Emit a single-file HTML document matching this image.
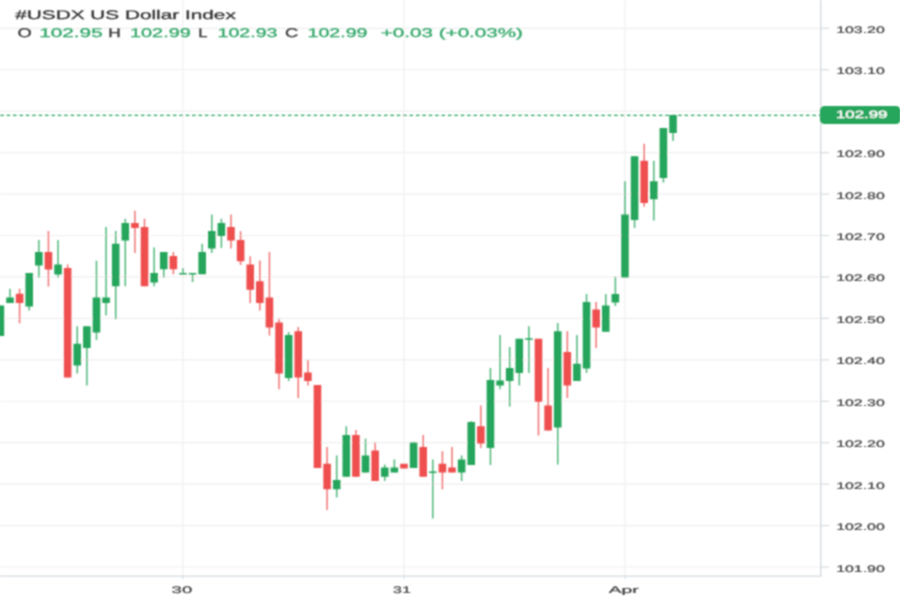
<!DOCTYPE html>
<html><head><meta charset="utf-8"><style>
html,body{margin:0;padding:0;background:#fff;width:900px;height:600px;overflow:hidden}
svg{display:block}
.ax{font-family:"Liberation Sans",sans-serif;font-size:9.5px;fill:#404040;stroke:#404040;stroke-width:0.2px;text-rendering:geometricPrecision}
.lb{font-family:"Liberation Sans",sans-serif;font-size:10.5px;fill:#fff;stroke:#fff;stroke-width:0.3px;text-rendering:geometricPrecision}
.lg{font-family:"Liberation Sans",sans-serif;font-size:12.5px;stroke-width:0.3px;text-rendering:geometricPrecision}
</style></head><body>
<svg width="900" height="600" viewBox="0 0 900 600">
<defs><filter id="bt" filterUnits="userSpaceOnUse" x="0" y="0" width="900" height="600"><feConvolveMatrix order="3" kernelMatrix="1 2 1 2 4 2 1 2 1" divisor="16" edgeMode="none"/></filter><filter id="bc" filterUnits="userSpaceOnUse" x="0" y="0" width="900" height="600"><feConvolveMatrix order="3" kernelMatrix="1 2 1 2 4 2 1 2 1" divisor="16" edgeMode="none"/></filter></defs>
<rect width="900" height="600" fill="#fff"/>
<g filter="url(#bc)">
<line x1="0" y1="28.30" x2="821" y2="28.30" stroke="#f0f0f0" stroke-width="1.2"/>
<line x1="821" y1="28.30" x2="829" y2="28.30" stroke="#d6dbe2" stroke-width="1.2"/>
<line x1="0" y1="69.74" x2="821" y2="69.74" stroke="#f0f0f0" stroke-width="1.2"/>
<line x1="821" y1="69.74" x2="829" y2="69.74" stroke="#d6dbe2" stroke-width="1.2"/>
<line x1="0" y1="111.18" x2="821" y2="111.18" stroke="#f0f0f0" stroke-width="1.2"/>
<line x1="821" y1="111.18" x2="829" y2="111.18" stroke="#d6dbe2" stroke-width="1.2"/>
<line x1="0" y1="152.62" x2="821" y2="152.62" stroke="#f0f0f0" stroke-width="1.2"/>
<line x1="821" y1="152.62" x2="829" y2="152.62" stroke="#d6dbe2" stroke-width="1.2"/>
<line x1="0" y1="194.06" x2="821" y2="194.06" stroke="#f0f0f0" stroke-width="1.2"/>
<line x1="821" y1="194.06" x2="829" y2="194.06" stroke="#d6dbe2" stroke-width="1.2"/>
<line x1="0" y1="235.50" x2="821" y2="235.50" stroke="#f0f0f0" stroke-width="1.2"/>
<line x1="821" y1="235.50" x2="829" y2="235.50" stroke="#d6dbe2" stroke-width="1.2"/>
<line x1="0" y1="276.94" x2="821" y2="276.94" stroke="#f0f0f0" stroke-width="1.2"/>
<line x1="821" y1="276.94" x2="829" y2="276.94" stroke="#d6dbe2" stroke-width="1.2"/>
<line x1="0" y1="318.38" x2="821" y2="318.38" stroke="#f0f0f0" stroke-width="1.2"/>
<line x1="821" y1="318.38" x2="829" y2="318.38" stroke="#d6dbe2" stroke-width="1.2"/>
<line x1="0" y1="359.82" x2="821" y2="359.82" stroke="#f0f0f0" stroke-width="1.2"/>
<line x1="821" y1="359.82" x2="829" y2="359.82" stroke="#d6dbe2" stroke-width="1.2"/>
<line x1="0" y1="401.26" x2="821" y2="401.26" stroke="#f0f0f0" stroke-width="1.2"/>
<line x1="821" y1="401.26" x2="829" y2="401.26" stroke="#d6dbe2" stroke-width="1.2"/>
<line x1="0" y1="442.70" x2="821" y2="442.70" stroke="#f0f0f0" stroke-width="1.2"/>
<line x1="821" y1="442.70" x2="829" y2="442.70" stroke="#d6dbe2" stroke-width="1.2"/>
<line x1="0" y1="484.14" x2="821" y2="484.14" stroke="#f0f0f0" stroke-width="1.2"/>
<line x1="821" y1="484.14" x2="829" y2="484.14" stroke="#d6dbe2" stroke-width="1.2"/>
<line x1="0" y1="525.58" x2="821" y2="525.58" stroke="#f0f0f0" stroke-width="1.2"/>
<line x1="821" y1="525.58" x2="829" y2="525.58" stroke="#d6dbe2" stroke-width="1.2"/>
<line x1="0" y1="567.02" x2="821" y2="567.02" stroke="#f0f0f0" stroke-width="1.2"/>
<line x1="821" y1="567.02" x2="829" y2="567.02" stroke="#d6dbe2" stroke-width="1.2"/>
<line x1="182.96" y1="0" x2="182.96" y2="576" stroke="#f0f0f0" stroke-width="1.2"/>
<line x1="182.96" y1="576" x2="182.96" y2="579" stroke="#d6dbe2" stroke-width="1.2"/>
<line x1="403.97" y1="0" x2="403.97" y2="576" stroke="#f0f0f0" stroke-width="1.2"/>
<line x1="403.97" y1="576" x2="403.97" y2="579" stroke="#d6dbe2" stroke-width="1.2"/>
<line x1="624.98" y1="0" x2="624.98" y2="576" stroke="#f0f0f0" stroke-width="1.2"/>
<line x1="624.98" y1="576" x2="624.98" y2="579" stroke="#d6dbe2" stroke-width="1.2"/>
<line x1="820.8" y1="0" x2="820.8" y2="576.3" stroke="#d6dbe2" stroke-width="1.4"/>
<line x1="0" y1="576.1" x2="821.5" y2="576.1" stroke="#d6dbe2" stroke-width="1.4"/>
<line x1="0.2" y1="115.3" x2="821" y2="115.3" stroke="#26a65b" stroke-width="1.2" stroke-dasharray="3.6 2.795" opacity="1"/>
<rect x="-0.36" y="305.50" width="1.5" height="30.50" fill="#26a65b" opacity="0.8"/>
<rect x="-3.41" y="305.50" width="7.6" height="30.50" fill="#26a65b"/>
<rect x="9.25" y="288.75" width="1.5" height="14.25" fill="#26a65b" opacity="0.8"/>
<rect x="6.20" y="297.50" width="7.6" height="5.50" fill="#26a65b"/>
<rect x="18.86" y="288.75" width="1.5" height="34.50" fill="#ef5050" opacity="0.8"/>
<rect x="15.81" y="293.75" width="7.6" height="9.25" fill="#ef5050"/>
<rect x="28.47" y="273.00" width="1.5" height="37.50" fill="#26a65b" opacity="0.8"/>
<rect x="25.42" y="273.00" width="7.6" height="33.50" fill="#26a65b"/>
<rect x="38.08" y="240.00" width="1.5" height="37.50" fill="#26a65b" opacity="0.8"/>
<rect x="35.03" y="252.00" width="7.6" height="13.50" fill="#26a65b"/>
<rect x="47.69" y="231.00" width="1.5" height="55.50" fill="#ef5050" opacity="0.8"/>
<rect x="44.64" y="252.00" width="7.6" height="17.50" fill="#ef5050"/>
<rect x="57.29" y="240.00" width="1.5" height="37.50" fill="#26a65b" opacity="0.8"/>
<rect x="54.24" y="264.50" width="7.6" height="10.00" fill="#26a65b"/>
<rect x="66.90" y="264.50" width="1.5" height="113.00" fill="#ef5050" opacity="0.8"/>
<rect x="63.85" y="268.00" width="7.6" height="109.50" fill="#ef5050"/>
<rect x="76.51" y="326.25" width="1.5" height="47.25" fill="#26a65b" opacity="0.8"/>
<rect x="73.46" y="343.75" width="7.6" height="21.75" fill="#26a65b"/>
<rect x="86.12" y="326.25" width="1.5" height="59.25" fill="#26a65b" opacity="0.8"/>
<rect x="83.07" y="326.25" width="7.6" height="21.75" fill="#26a65b"/>
<rect x="95.73" y="260.75" width="1.5" height="79.25" fill="#26a65b" opacity="0.8"/>
<rect x="92.68" y="297.50" width="7.6" height="35.00" fill="#26a65b"/>
<rect x="105.34" y="227.00" width="1.5" height="88.50" fill="#26a65b" opacity="0.8"/>
<rect x="102.29" y="297.50" width="7.6" height="5.50" fill="#26a65b"/>
<rect x="114.95" y="231.00" width="1.5" height="88.25" fill="#26a65b" opacity="0.8"/>
<rect x="111.90" y="243.75" width="7.6" height="42.50" fill="#26a65b"/>
<rect x="124.56" y="218.75" width="1.5" height="67.50" fill="#26a65b" opacity="0.8"/>
<rect x="121.51" y="223.00" width="7.6" height="17.50" fill="#26a65b"/>
<rect x="134.17" y="210.75" width="1.5" height="42.25" fill="#ef5050" opacity="0.8"/>
<rect x="131.12" y="223.00" width="7.6" height="5.00" fill="#ef5050"/>
<rect x="143.77" y="218.75" width="1.5" height="67.50" fill="#ef5050" opacity="0.8"/>
<rect x="140.72" y="227.00" width="7.6" height="59.25" fill="#ef5050"/>
<rect x="153.38" y="247.50" width="1.5" height="38.75" fill="#26a65b" opacity="0.8"/>
<rect x="150.33" y="273.00" width="7.6" height="9.50" fill="#26a65b"/>
<rect x="162.99" y="252.00" width="1.5" height="25.50" fill="#26a65b" opacity="0.8"/>
<rect x="159.94" y="252.00" width="7.6" height="17.25" fill="#26a65b"/>
<rect x="172.60" y="252.00" width="1.5" height="22.25" fill="#ef5050" opacity="0.8"/>
<rect x="169.55" y="256.00" width="7.6" height="13.25" fill="#ef5050"/>
<rect x="182.21" y="268.00" width="1.5" height="6.50" fill="#26a65b" opacity="0.8"/>
<rect x="179.16" y="273.00" width="7.6" height="1.50" fill="#26a65b"/>
<rect x="191.82" y="273.00" width="1.5" height="9.00" fill="#26a65b" opacity="0.8"/>
<rect x="188.77" y="273.00" width="7.6" height="1.50" fill="#26a65b"/>
<rect x="201.43" y="243.75" width="1.5" height="30.50" fill="#26a65b" opacity="0.8"/>
<rect x="198.38" y="252.00" width="7.6" height="22.25" fill="#26a65b"/>
<rect x="211.04" y="214.50" width="1.5" height="38.50" fill="#26a65b" opacity="0.8"/>
<rect x="207.99" y="231.00" width="7.6" height="17.50" fill="#26a65b"/>
<rect x="220.65" y="218.75" width="1.5" height="29.25" fill="#26a65b" opacity="0.8"/>
<rect x="217.60" y="223.00" width="7.6" height="13.00" fill="#26a65b"/>
<rect x="230.26" y="214.50" width="1.5" height="34.00" fill="#ef5050" opacity="0.8"/>
<rect x="227.21" y="227.00" width="7.6" height="13.50" fill="#ef5050"/>
<rect x="239.86" y="231.25" width="1.5" height="33.75" fill="#ef5050" opacity="0.8"/>
<rect x="236.81" y="240.00" width="7.6" height="21.25" fill="#ef5050"/>
<rect x="249.47" y="256.25" width="1.5" height="46.75" fill="#ef5050" opacity="0.8"/>
<rect x="246.42" y="264.50" width="7.6" height="25.25" fill="#ef5050"/>
<rect x="259.08" y="260.50" width="1.5" height="50.00" fill="#ef5050" opacity="0.8"/>
<rect x="256.03" y="281.25" width="7.6" height="21.75" fill="#ef5050"/>
<rect x="268.69" y="252.00" width="1.5" height="83.50" fill="#ef5050" opacity="0.8"/>
<rect x="265.64" y="297.50" width="7.6" height="30.00" fill="#ef5050"/>
<rect x="278.30" y="318.75" width="1.5" height="70.50" fill="#ef5050" opacity="0.8"/>
<rect x="275.25" y="322.50" width="7.6" height="51.00" fill="#ef5050"/>
<rect x="287.91" y="332.00" width="1.5" height="49.00" fill="#26a65b" opacity="0.8"/>
<rect x="284.86" y="335.00" width="7.6" height="43.00" fill="#26a65b"/>
<rect x="297.52" y="327.00" width="1.5" height="71.00" fill="#ef5050" opacity="0.8"/>
<rect x="294.47" y="331.25" width="7.6" height="46.25" fill="#ef5050"/>
<rect x="307.13" y="360.00" width="1.5" height="25.50" fill="#ef5050" opacity="0.8"/>
<rect x="304.08" y="372.50" width="7.6" height="8.50" fill="#ef5050"/>
<rect x="316.74" y="385.00" width="1.5" height="83.00" fill="#ef5050" opacity="0.8"/>
<rect x="313.69" y="385.00" width="7.6" height="83.00" fill="#ef5050"/>
<rect x="326.35" y="447.00" width="1.5" height="63.00" fill="#ef5050" opacity="0.8"/>
<rect x="323.30" y="463.75" width="7.6" height="25.50" fill="#ef5050"/>
<rect x="335.95" y="455.50" width="1.5" height="42.00" fill="#26a65b" opacity="0.8"/>
<rect x="332.90" y="480.00" width="7.6" height="9.25" fill="#26a65b"/>
<rect x="345.56" y="426.25" width="1.5" height="50.50" fill="#26a65b" opacity="0.8"/>
<rect x="342.51" y="435.00" width="7.6" height="41.75" fill="#26a65b"/>
<rect x="355.17" y="430.00" width="1.5" height="46.75" fill="#ef5050" opacity="0.8"/>
<rect x="352.12" y="435.00" width="7.6" height="41.75" fill="#ef5050"/>
<rect x="364.78" y="438.75" width="1.5" height="33.75" fill="#26a65b" opacity="0.8"/>
<rect x="361.73" y="455.50" width="7.6" height="17.00" fill="#26a65b"/>
<rect x="374.39" y="442.50" width="1.5" height="38.50" fill="#ef5050" opacity="0.8"/>
<rect x="371.34" y="450.50" width="7.6" height="30.50" fill="#ef5050"/>
<rect x="384.00" y="464.50" width="1.5" height="16.50" fill="#26a65b" opacity="0.8"/>
<rect x="380.95" y="467.50" width="7.6" height="9.25" fill="#26a65b"/>
<rect x="393.61" y="459.50" width="1.5" height="13.00" fill="#26a65b" opacity="0.8"/>
<rect x="390.56" y="467.50" width="7.6" height="5.00" fill="#26a65b"/>
<rect x="403.22" y="463.75" width="1.5" height="4.75" fill="#ef5050" opacity="0.8"/>
<rect x="400.17" y="463.75" width="7.6" height="4.75" fill="#ef5050"/>
<rect x="412.83" y="442.50" width="1.5" height="25.50" fill="#26a65b" opacity="0.8"/>
<rect x="409.78" y="442.50" width="7.6" height="25.50" fill="#26a65b"/>
<rect x="422.44" y="435.00" width="1.5" height="41.75" fill="#ef5050" opacity="0.8"/>
<rect x="419.39" y="447.00" width="7.6" height="29.75" fill="#ef5050"/>
<rect x="432.04" y="459.50" width="1.5" height="59.00" fill="#26a65b" opacity="0.8"/>
<rect x="428.99" y="471.50" width="7.6" height="1.50" fill="#26a65b"/>
<rect x="441.65" y="451.25" width="1.5" height="38.00" fill="#ef5050" opacity="0.8"/>
<rect x="438.60" y="463.75" width="7.6" height="8.75" fill="#ef5050"/>
<rect x="451.26" y="447.00" width="1.5" height="25.50" fill="#ef5050" opacity="0.8"/>
<rect x="448.21" y="467.50" width="7.6" height="5.00" fill="#ef5050"/>
<rect x="460.87" y="455.50" width="1.5" height="25.50" fill="#26a65b" opacity="0.8"/>
<rect x="457.82" y="459.50" width="7.6" height="13.00" fill="#26a65b"/>
<rect x="470.48" y="421.25" width="1.5" height="43.75" fill="#26a65b" opacity="0.8"/>
<rect x="467.43" y="422.00" width="7.6" height="43.00" fill="#26a65b"/>
<rect x="480.09" y="405.50" width="1.5" height="42.50" fill="#ef5050" opacity="0.8"/>
<rect x="477.04" y="426.25" width="7.6" height="17.25" fill="#ef5050"/>
<rect x="489.70" y="368.00" width="1.5" height="97.00" fill="#26a65b" opacity="0.8"/>
<rect x="486.65" y="380.00" width="7.6" height="68.00" fill="#26a65b"/>
<rect x="499.31" y="335.00" width="1.5" height="54.25" fill="#26a65b" opacity="0.8"/>
<rect x="496.26" y="380.50" width="7.6" height="5.00" fill="#26a65b"/>
<rect x="508.92" y="347.00" width="1.5" height="59.50" fill="#26a65b" opacity="0.8"/>
<rect x="505.87" y="368.00" width="7.6" height="13.00" fill="#26a65b"/>
<rect x="518.53" y="338.75" width="1.5" height="46.75" fill="#26a65b" opacity="0.8"/>
<rect x="515.48" y="338.75" width="7.6" height="34.25" fill="#26a65b"/>
<rect x="528.13" y="326.25" width="1.5" height="46.75" fill="#26a65b" opacity="0.8"/>
<rect x="525.09" y="338.25" width="7.6" height="1.50" fill="#26a65b"/>
<rect x="537.74" y="338.75" width="1.5" height="96.75" fill="#ef5050" opacity="0.8"/>
<rect x="534.69" y="338.75" width="7.6" height="63.00" fill="#ef5050"/>
<rect x="547.35" y="368.00" width="1.5" height="62.50" fill="#ef5050" opacity="0.8"/>
<rect x="544.30" y="405.50" width="7.6" height="25.00" fill="#ef5050"/>
<rect x="556.96" y="323.00" width="1.5" height="141.50" fill="#26a65b" opacity="0.8"/>
<rect x="553.91" y="331.25" width="7.6" height="96.25" fill="#26a65b"/>
<rect x="566.57" y="331.25" width="1.5" height="66.75" fill="#ef5050" opacity="0.8"/>
<rect x="563.52" y="352.00" width="7.6" height="33.50" fill="#ef5050"/>
<rect x="576.18" y="335.00" width="1.5" height="46.00" fill="#26a65b" opacity="0.8"/>
<rect x="573.13" y="363.75" width="7.6" height="17.25" fill="#26a65b"/>
<rect x="585.79" y="294.00" width="1.5" height="79.00" fill="#26a65b" opacity="0.8"/>
<rect x="582.74" y="302.00" width="7.6" height="66.50" fill="#26a65b"/>
<rect x="595.40" y="302.00" width="1.5" height="46.00" fill="#ef5050" opacity="0.8"/>
<rect x="592.35" y="309.50" width="7.6" height="18.00" fill="#ef5050"/>
<rect x="605.01" y="294.00" width="1.5" height="37.75" fill="#26a65b" opacity="0.8"/>
<rect x="601.96" y="305.50" width="7.6" height="26.25" fill="#26a65b"/>
<rect x="614.62" y="276.70" width="1.5" height="29.30" fill="#26a65b" opacity="0.8"/>
<rect x="611.57" y="294.00" width="7.6" height="8.50" fill="#26a65b"/>
<rect x="624.23" y="181.25" width="1.5" height="96.25" fill="#26a65b" opacity="0.8"/>
<rect x="621.18" y="214.50" width="7.6" height="63.00" fill="#26a65b"/>
<rect x="633.83" y="156.25" width="1.5" height="71.75" fill="#26a65b" opacity="0.8"/>
<rect x="630.78" y="156.25" width="7.6" height="63.75" fill="#26a65b"/>
<rect x="643.44" y="143.75" width="1.5" height="63.00" fill="#ef5050" opacity="0.8"/>
<rect x="640.39" y="160.75" width="7.6" height="42.25" fill="#ef5050"/>
<rect x="653.05" y="160.75" width="1.5" height="59.75" fill="#26a65b" opacity="0.8"/>
<rect x="650.00" y="181.25" width="7.6" height="18.00" fill="#26a65b"/>
<rect x="662.66" y="128.00" width="1.5" height="54.50" fill="#26a65b" opacity="0.8"/>
<rect x="659.61" y="128.00" width="7.6" height="50.00" fill="#26a65b"/>
<rect x="672.27" y="115.00" width="1.5" height="26.00" fill="#26a65b" opacity="0.8"/>
<rect x="669.22" y="115.00" width="7.6" height="18.00" fill="#26a65b"/>
</g>
<g filter="url(#bt)">
<text x="15.3" y="18.7" textLength="220.5" lengthAdjust="spacingAndGlyphs" class="lg" fill="#363636" stroke="#363636">#USDX US Dollar Index</text>
<text x="17.5" y="37.2" textLength="14.2" lengthAdjust="spacingAndGlyphs" class="lg" fill="#383838" stroke="#383838">O</text>
<text x="39.2" y="37.2" textLength="63.5" lengthAdjust="spacingAndGlyphs" class="lg" fill="#35a86b" stroke="#35a86b">102.95</text>
<text x="108.3" y="37.2" textLength="12.5" lengthAdjust="spacingAndGlyphs" class="lg" fill="#383838" stroke="#383838">H</text>
<text x="130" y="37.2" textLength="60.8" lengthAdjust="spacingAndGlyphs" class="lg" fill="#35a86b" stroke="#35a86b">102.99</text>
<text x="198.3" y="37.2" textLength="9.2" lengthAdjust="spacingAndGlyphs" class="lg" fill="#383838" stroke="#383838">L</text>
<text x="217.5" y="37.2" textLength="60" lengthAdjust="spacingAndGlyphs" class="lg" fill="#35a86b" stroke="#35a86b">102.93</text>
<text x="285" y="37.2" textLength="13.3" lengthAdjust="spacingAndGlyphs" class="lg" fill="#383838" stroke="#383838">C</text>
<text x="307.5" y="37.2" textLength="60" lengthAdjust="spacingAndGlyphs" class="lg" fill="#35a86b" stroke="#35a86b">102.99</text>
<text x="380.8" y="37.2" textLength="142.2" lengthAdjust="spacingAndGlyphs" class="lg" fill="#35a86b" stroke="#35a86b">+0.03 (+0.03%)</text>
<text x="836.2" y="32.80" textLength="48.6" lengthAdjust="spacingAndGlyphs" class="ax">103.20</text>
<text x="836.2" y="74.24" textLength="48.6" lengthAdjust="spacingAndGlyphs" class="ax">103.10</text>
<text x="836.2" y="115.68" textLength="48.6" lengthAdjust="spacingAndGlyphs" class="ax">103.00</text>
<text x="836.2" y="157.12" textLength="48.6" lengthAdjust="spacingAndGlyphs" class="ax">102.90</text>
<text x="836.2" y="198.56" textLength="48.6" lengthAdjust="spacingAndGlyphs" class="ax">102.80</text>
<text x="836.2" y="240.00" textLength="48.6" lengthAdjust="spacingAndGlyphs" class="ax">102.70</text>
<text x="836.2" y="281.44" textLength="48.6" lengthAdjust="spacingAndGlyphs" class="ax">102.60</text>
<text x="836.2" y="322.88" textLength="48.6" lengthAdjust="spacingAndGlyphs" class="ax">102.50</text>
<text x="836.2" y="364.32" textLength="48.6" lengthAdjust="spacingAndGlyphs" class="ax">102.40</text>
<text x="836.2" y="405.76" textLength="48.6" lengthAdjust="spacingAndGlyphs" class="ax">102.30</text>
<text x="836.2" y="447.20" textLength="48.6" lengthAdjust="spacingAndGlyphs" class="ax">102.20</text>
<text x="836.2" y="488.64" textLength="48.6" lengthAdjust="spacingAndGlyphs" class="ax">102.10</text>
<text x="836.2" y="530.08" textLength="48.6" lengthAdjust="spacingAndGlyphs" class="ax">102.00</text>
<text x="836.2" y="571.52" textLength="48.6" lengthAdjust="spacingAndGlyphs" class="ax">101.90</text>
<text x="171.60" y="592.6" textLength="20.7" lengthAdjust="spacingAndGlyphs" class="ax">30</text>
<text x="393.05" y="592.6" textLength="17.8" lengthAdjust="spacingAndGlyphs" class="ax">31</text>
<text x="608.70" y="592.6" textLength="30" lengthAdjust="spacingAndGlyphs" class="ax">Apr</text>
<rect x="820" y="106.1" width="80.5" height="17.9" rx="4.5" fill="#26a65b"/>
<text x="836" y="118.2" textLength="51.5" lengthAdjust="spacingAndGlyphs" class="lb">102.99</text>
</g>
</svg>
</body></html>
